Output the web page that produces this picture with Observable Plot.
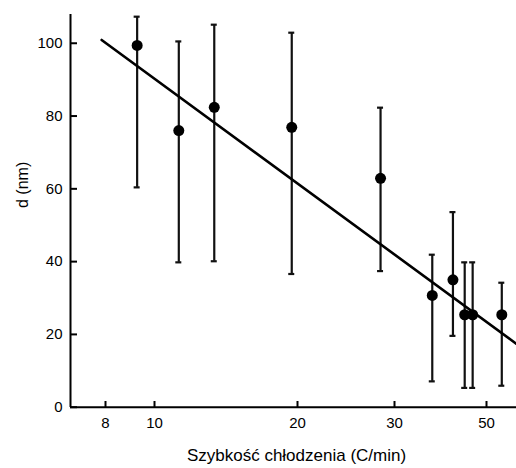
<!DOCTYPE html>
<html>
<head>
<meta charset="utf-8">
<script src="https://cdn.jsdelivr.net/npm/d3@7"></script>
<script src="https://cdn.jsdelivr.net/npm/@observablehq/plot@0.6"></script>
<style>
  html, body { margin: 0; padding: 0; background: #fff; }
  svg { font-family: "Liberation Sans", Arial, sans-serif; }
</style>
</head>
<body>
<div id="chart"></div>
<script>
// Cooling rate (C/min) and particle size d (nm) with error bars
const rate  = [9.24, 11.25, 13.36, 19.45, 28.3, 37.0, 41.5, 44.3, 46.3, 54.4];
const dMean = [99.4, 76.0, 82.4, 76.9, 62.9, 30.7, 35.0, 25.4, 25.4, 25.4];
const dLow  = [60.4, 39.8, 40.1, 36.6, 37.4, 7.1, 19.6, 5.3, 5.3, 5.9];
const dHigh = [107.3, 100.5, 105.1, 102.9, 82.3, 41.9, 53.6, 39.8, 39.8, 34.2];

// fitted line endpoints
const fitX = [7.86, 59];
const fitY = [100.9, 17.4];

// axis ticks
const xTicks = [8, 10, 20, 30, 50];
const yTicks = [0, 20, 40, 60, 80, 100];

const points = rate.map((r, i) => ({r, d: dMean[i], lo: dLow[i], hi: dHigh[i]}));
const fit = fitX.map((r, i) => ({r, d: fitY[i]}));

const chart = Plot.plot({
  width: 516,
  height: 468,
  marginLeft: 70,
  marginRight: 0,
  marginTop: 14,
  marginBottom: 61,
  style: {fontFamily: "Liberation Sans, Arial, sans-serif", fontSize: "15px", color: "#000", background: "#fff"},
  x: {
    type: "log",
    domain: [6.82, 8, 10, 20, 30, 50, 59],
    range: [70, 105, 154, 297, 394, 486, 516]
  },
  y: {
    domain: [0, 107.9],
    range: [406.7, 14]
  },
  marks: [
    Plot.axisX({ticks: xTicks, tickFormat: d => String(d), tickSize: -6, tickPadding: 16, strokeWidth: 2,
      label: null, fontSize: 15}),
    Plot.axisY({ticks: yTicks, tickSize: -7, tickPadding: 15, strokeWidth: 2,
      label: null, fontSize: 15}),
    Plot.text(["Szybkość chłodzenia (C/min)"], {frameAnchor: "bottom", dy: 53, fontSize: 17, fill: "#000", dx: 3}),
    Plot.text(["d (nm)"], {frameAnchor: "left", dx: -48, dy: -3, rotate: -90, fontSize: 16, fill: "#000"}),
    Plot.ruleY([0], {stroke: "#000", strokeWidth: 2}),
    Plot.ruleX([6.82], {stroke: "#000", strokeWidth: 2}),
    Plot.ruleX(points, {x: "r", y1: "lo", y2: "hi", stroke: "#111", strokeWidth: 2.2}),
    Plot.ruleY(points, {y: "lo", x1: "r", x2: "r", insetLeft: -3, insetRight: -3, stroke: "#111", strokeWidth: 2.2}),
    Plot.ruleY(points, {y: "hi", x1: "r", x2: "r", insetLeft: -3, insetRight: -3, stroke: "#111", strokeWidth: 2.2}),
    Plot.line(fit, {x: "r", y: "d", stroke: "#000", strokeWidth: 2.6}),
    Plot.dot(points, {x: "r", y: "d", r: 5.5, fill: "#000"})
  ]
});
document.getElementById("chart").appendChild(chart);
</script>
</body>
</html>
